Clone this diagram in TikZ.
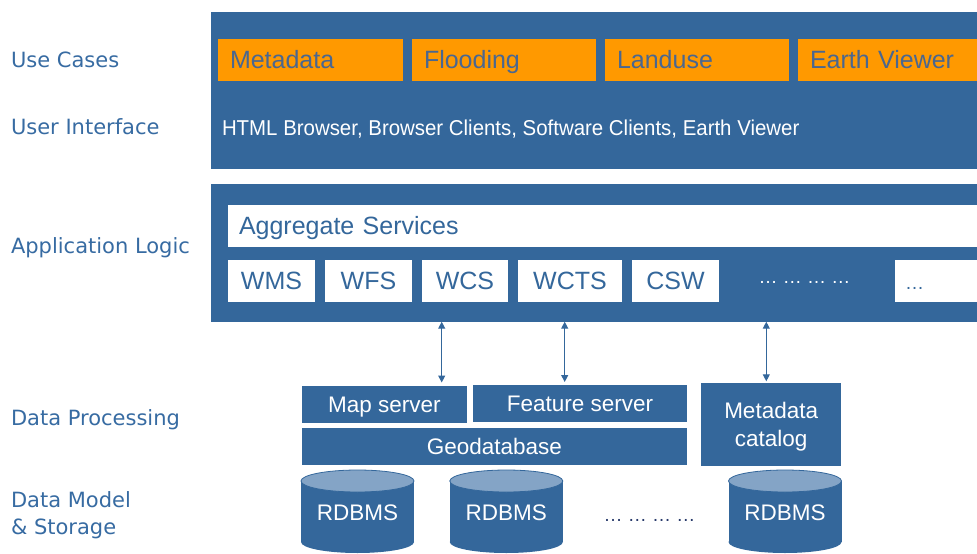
\documentclass[tikz,border=0pt]{standalone}
\usepackage{graphicx}
\usepackage{fontspec}
\setmainfont{Liberation Sans}
\newfontfamily\lblfont{DejaVu Sans}
\usetikzlibrary{arrows.meta}
\definecolor{pblue}{HTML}{34679B}
\definecolor{lblue}{HTML}{376BA2}
\definecolor{orng}{HTML}{FF9900}
\definecolor{otxt}{HTML}{4A6790}
\definecolor{ctop}{HTML}{84A4C6}
\definecolor{dotc}{HTML}{27396A}
\newcommand\dbcyl[2]{%
  \fill[pblue] (#1-56.5,481) rectangle (#1+56.5,542);
  \fill[pblue] (#1,542) ellipse [x radius=56.5pt, y radius=11pt];
  \filldraw[fill=ctop,draw=pblue,line width=0.8pt] (#1,481) ellipse [x radius=56.5pt, y radius=11pt];
  \node[dbtext] (#2) at (#1,512) {RDBMS};
}
\begin{document}
\begin{tikzpicture}[x=1pt,y=-1pt,
  every node/.style={inner sep=0pt,outer sep=0pt},
  panel/.style={fill=pblue,minimum width=766pt},
  ucbox/.style={fill=orng,minimum height=42pt,text=otxt,
    font=\fontsize{25}{30}\selectfont,text height=17.9pt,text depth=0pt,
    align=left,inner xsep=12pt},
  svcbox/.style={fill=white,minimum height=42pt,text=pblue,
    font=\fontsize{25}{30}\selectfont,text height=17.9pt,text depth=0pt},
  bbox/.style={fill=pblue,minimum height=37pt,text=white,
    font=\fontsize{22.5}{27.5}\selectfont,text height=16.1pt,text depth=0pt,align=center},
  dbtext/.style={text=white,font=\fontsize{22.5}{27}\selectfont,text height=16.1pt,text depth=0pt},
  lbl/.style={anchor=base west,text=lblue,font=\lblfont\fontsize{21}{26}\selectfont},
  dotstext/.style={anchor=base,font=\fontsize{19}{22}\selectfont},
  biarrow/.style={draw=pblue,line width=1.1pt,
    {Triangle[length=7pt,width=7pt]}-{Triangle[length=7pt,width=7pt]},shorten >=3pt}
]
\useasboundingbox (0,0) rectangle (977,554);

% left labels
\node[lbl] (lUC) at (11,67) {Use Cases};
\node[lbl] (lUI) at (11,134) {User Interface};
\node[lbl] (lAL) at (11,253) {Application Logic};
\node[lbl] (lDP) at (11,425.7) {Data Processing};
\node[lbl] (lDM) at (11,507) {Data Model};
\node[lbl] (lDS) at (11,534) {\& Storage};

% top panel
\node[panel,minimum height=157pt] (ui) at (594,90.5) {};
\node[ucbox,text width=161pt] (uc1) at (310.5,60) {Metadata};
\node[ucbox,text width=160pt] (uc2) at (504,60) {Flooding};
\node[ucbox,text width=160pt] (uc3) at (697,60) {Landuse};
\node[ucbox,text width=155pt] (uc4) at (887.5,60) {Earth Viewer};
\node[anchor=base west,text=white,font=\fontsize{21.5}{26}\selectfont] (uitext) at (222,135)
  {\scalebox{0.95}[1]{HTML Browser, Browser Clients, Software Clients, Earth Viewer}};

% application panel
\node[panel,minimum height=137.7pt] (app) at (594,252.85) {};
\node[svcbox,text width=727pt,inner xsep=11pt,align=left] (agg) at (602.5,226) {Aggregate Services};
\node[svcbox,minimum width=87pt] (wms) at (271.5,281) {WMS};
\node[svcbox,minimum width=87pt] (wfs) at (368.5,281) {WFS};
\node[svcbox,minimum width=86pt] (wcs) at (465,281) {WCS};
\node[svcbox,minimum width=104pt] (wcts) at (570,281) {WCTS};
\node[svcbox,minimum width=87pt] (csw) at (675.5,281) {CSW};
\node[dotstext,text=white] (moredots) at (804.5,283) {… … … …};
\node[svcbox,text width=62pt,inner xsep=10pt,align=left,font=\fontsize{19}{22}\selectfont] (more) at (936,281) {…};

% data processing
\node[bbox,minimum width=165.6pt] (ms) at (384.5,404) {Map server};
\node[bbox,minimum width=214pt] (fs) at (580,403.5) {Feature server};
\node[bbox,minimum width=385.3pt] (gdb) at (494.35,446.5) {Geodatabase};
\node[bbox,minimum width=140.3pt,minimum height=82.7pt,text height=43.6pt] (mc) at (771.15,424.65) {Metadata\\catalog};

% arrows
\coordinate (ax1) at (441.7,0);
\coordinate (ax2) at (564.7,0);
\coordinate (ax3) at (766.3,0);
\draw[biarrow] (ax1 |- app.south) -- (ax1 |- ms.north);
\draw[biarrow] (ax2 |- app.south) -- (ax2 |- fs.north);
\draw[biarrow,shorten >=2pt] (ax3 |- app.south) -- (ax3 |- mc.north);

% storage
\dbcyl{357.5}{db1}
\dbcyl{506.3}{db2}
\dbcyl{785}{db3}
\node[dotstext,text=dotc] (dbdots) at (649.5,521) {… … … …};
\end{tikzpicture}
\end{document}
